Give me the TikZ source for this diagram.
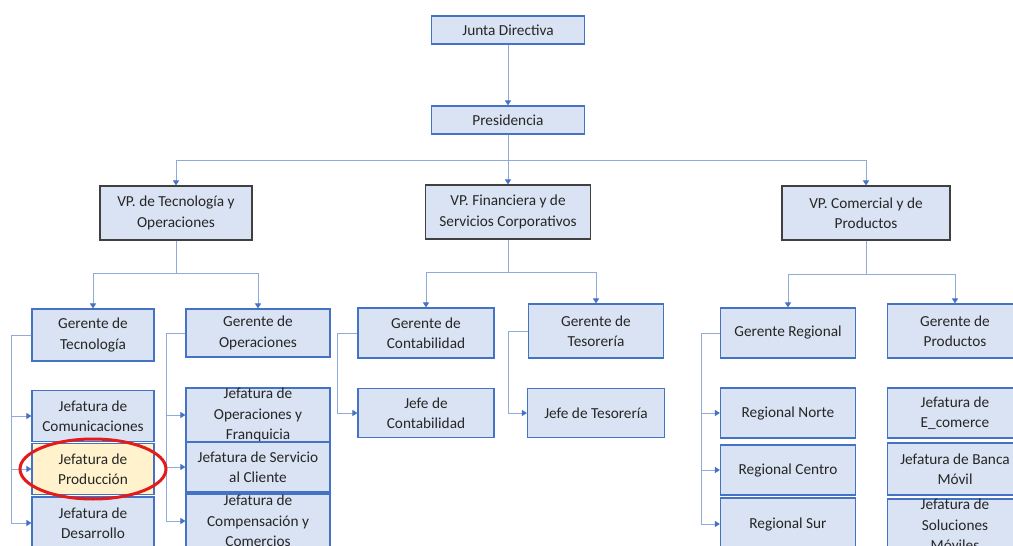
\documentclass[tikz,border=0pt]{standalone}
\usepackage{fontspec}
\setmainfont{Carlito}
\usetikzlibrary{arrows.meta}
\definecolor{boxfill}{HTML}{DAE3F3}
\definecolor{boxline}{HTML}{4472C4}
\definecolor{vpline}{HTML}{404040}
\definecolor{linkline}{HTML}{8FAADC}
\definecolor{marked}{HTML}{FFF2CC}
\definecolor{ring}{HTML}{E31B1B}
\tikzset{
	unit/.style = {draw = boxline, fill = boxfill, line width = 1.2pt, inner sep = 0,
		align = center, text = black!85, font = \fontsize{15.3}{20.5}\selectfont},
	vp unit/.style = {unit, draw = vpline},
	dims/.style 2 args = {minimum width = #1pt, minimum height = #2pt},
	link/.style = {draw = linkline, line width = 1pt,
		-{Triangle[length = 5pt, width = 6pt, color = boxline]}},
}

\begin{document}
\begin{tikzpicture}[x=1pt, y=-1pt]
\clip (0,0) rectangle (1013,546);
\fill[white] (0,0) rectangle (1013,546);
% top
\node[unit, dims={153}{28}] (junta) at (508,30) {Junta Directiva};
\node[unit, dims={153}{28}] (pres) at (508,120) {Presidencia};
% vice presidents
\node[vp unit, dims={152}{54}] (vptec) at (176,213) {VP. de Tecnología y\\Operaciones};
\node[vp unit, dims={165}{54}] (vpfin) at (508,212) {VP. Financiera y de\\Servicios Corporativos};
\node[vp unit, dims={168}{54}] (vpcom) at (866,213) {VP. Comercial y de\\Productos};
% managers
\node[unit, dims={122}{52}] (gtec) at (93,335) {Gerente de\\Tecnología};
\node[unit, dims={144}{48}] (gop) at (258,333) {Gerente de\\Operaciones};
\node[unit, dims={136}{50}] (gcont) at (426,333) {Gerente de\\Contabilidad};
\node[unit, dims={135}{54}] (gtes) at (596,331) {Gerente de\\Tesorería};
\node[unit, dims={135}{50}] (greg) at (788,333) {Gerente Regional};
\node[unit, dims={135}{54}] (gprod) at (955,331) {Gerente de\\Productos};
% heads
\node[unit, dims={122}{51}] (jcom) at (93,416) {Jefatura de\\Comunicaciones};
\node[unit, dims={122}{51}, fill = marked] (jprod) at (93,469) {Jefatura de\\Producción};
\node[unit, dims={122}{52}] (jdes) at (93,523) {Jefatura de\\Desarrollo};
\node[unit, dims={144}{51}] (jop) at (258,415) {Jefatura de\\Operaciones y\\Franquicia};
\node[unit, dims={144}{50}] (jserv) at (258,467) {Jefatura de Servicio\\al Cliente};
\node[unit, dims={144}{54}] (jcomp) at (258,521) {Jefatura de\\Compensación y\\Comercios};
\node[unit, dims={136}{49}] (jcont) at (426,413) {Jefe de\\Contabilidad};
\node[unit, dims={137}{49}] (jtes) at (596,413) {Jefe de Tesorería};
\node[unit, dims={135}{50}] (rnorte) at (788,413) {Regional Norte};
\node[unit, dims={135}{50}] (rcentro) at (788,470) {Regional Centro};
\node[unit, dims={135}{52}] (rsur) at (788,524) {Regional Sur};
\node[unit, dims={135}{50}] (jecom) at (955,413) {Jefatura de\\E\_comerce};
\node[unit, dims={135}{52}] (jbanca) at (955,469) {Jefatura de Banca\\Móvil};
\node[unit, dims={135}{52}] (jsol) at (955,525) {Jefatura de\\Soluciones\\Móviles};
% connectors
\draw[link] (junta) -- (pres);
\draw[link] (pres) -- (vpfin);
\draw[link] (pres.south) -- ++(0,26) -| (vptec.north);
\draw[link] (pres.south) -- ++(0,26) -| (vpcom.north);
\draw[link] (vptec.south) -- ++(0,33) -| (gtec.north);
\draw[link] (vptec.south) -- ++(0,33) -| (gop.north);
\draw[link] (vpfin.south) -- ++(0,33) -| (gcont.north);
\draw[link] (vpfin.south) -- ++(0,33) -| (gtes.north);
\draw[link] (vpcom.south) -- ++(0,34) -| (greg.north);
\draw[link] (vpcom.south) -- ++(0,34) -| (gprod.north);
\draw[link] (gtec.west) -- ++(-20,0) |- (jcom.west);
\draw[link] (gtec.west) -- ++(-20,0) |- (jprod.west);
\draw[link] (gtec.west) -- ++(-20,0) |- (jdes.west);
\draw[link] (gop.west) -- ++(-19,0) |- (jop.west);
\draw[link] (gop.west) -- ++(-19,0) |- (jserv.west);
\draw[link] (gop.west) -- ++(-19,0) |- (jcomp.west);
\draw[link] (gcont.west) -- ++(-20,0) |- (jcont.west);
\draw[link] (gtes.west) -- ++(-19,0) |- (jtes.west);
\draw[link] (greg.west) -- ++(-18,0) |- (rnorte.west);
\draw[link] (greg.west) -- ++(-18,0) |- (rcentro.west);
\draw[link] (greg.west) -- ++(-18,0) |- (rsur.west);
% highlight
\draw[ring, line width = 3pt] (jprod) ellipse [x radius = 73pt, y radius = 30pt];
\end{tikzpicture}
\end{document}
